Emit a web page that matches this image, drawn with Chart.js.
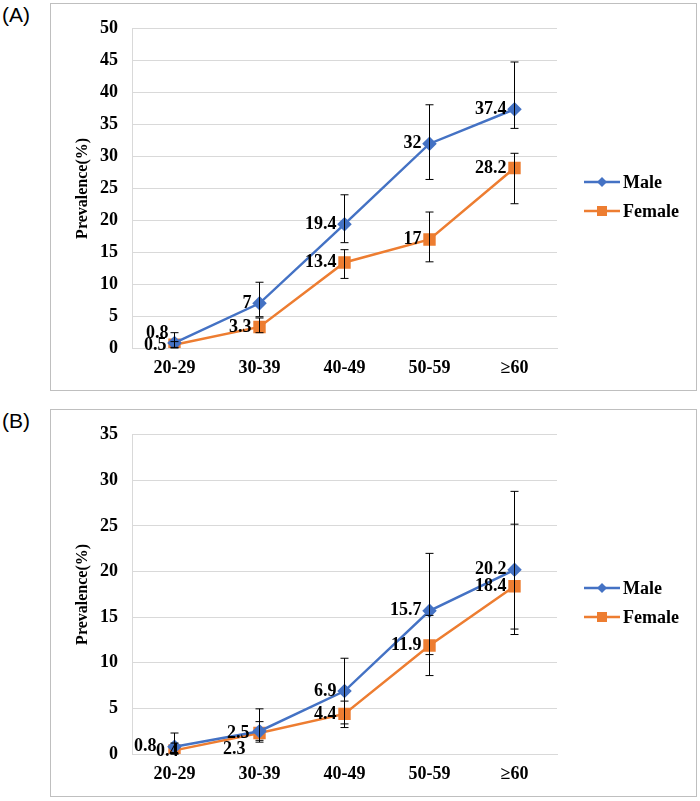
<!DOCTYPE html>
<html>
<head>
<meta charset="utf-8">
<script src="https://cdn.jsdelivr.net/npm/chart.js@4.4.1/dist/chart.umd.min.js"></script>
<style>
  body { margin: 0; background: #fff; width: 700px; height: 801px; position: relative; }
  .panel { position: absolute; left: 50px; width: 645px; height: 386px; border: 1px solid #bfbfbf; }
  .tag { position: absolute; left: 2px; font: 21px "Liberation Sans", Arial, sans-serif; color: #000; }
</style>
</head>
<body>
<div class="tag" style="top:3px">(A)</div>
<div class="panel" style="top:3px"><canvas id="chartA" width="645" height="386"></canvas></div>
<div class="tag" style="top:409px">(B)</div>
<div class="panel" style="top:409px"><canvas id="chartB" width="645" height="386"></canvas></div>
<script>
const ageGroups = ['20-29', '30-39', '40-49', '50-59', '≥60'];

// panel A
const maleA = [0.8, 7, 19.4, 32, 37.4];
const maleALow = [0, 4.9, 16.5, 26.4, 34.4];
const maleAHigh = [2.4, 10.3, 24.0, 38.1, 44.8];
const femaleA = [0.5, 3.3, 13.4, 17, 28.2];
const femaleALow = [0.1, 2.4, 10.9, 13.5, 22.6];
const femaleAHigh = [1.0, 4.7, 15.4, 21.3, 30.5];
const yMaxA = 50;

// panel B
const maleB = [0.8, 2.5, 6.9, 15.7, 20.2];
const maleBLow = [0, 1.5, 3.3, 10.9, 13.1];
const maleBHigh = [2.3, 4.95, 10.5, 22.0, 28.8];
const femaleB = [0.4, 2.3, 4.4, 11.9, 18.4];
const femaleBLow = [0, 1.3, 2.9, 8.6, 13.7];
const femaleBHigh = [1.2, 3.55, 5.8, 15.2, 25.2];
const yMaxB = 35;

const yStep = 5;
const blue = '#4472C4';
const orange = '#ED7D31';
const serif = '"Liberation Serif", "Times New Roman", serif';

// error bars, value labels, y title and legend
const extras = {
  id: 'extras',
  afterDatasetsDraw(chart) {
    const ctx = chart.ctx;
    const y = chart.scales.y;
    ctx.save();
    chart.data.datasets.forEach((ds, i) => {
      const meta = chart.getDatasetMeta(i);
      ctx.strokeStyle = '#000';
      ctx.lineWidth = 1;
      meta.data.forEach((pt, j) => {
        const top = y.getPixelForValue(ds.high[j]);
        const bot = y.getPixelForValue(ds.low[j]);
        ctx.beginPath();
        ctx.moveTo(pt.x, top); ctx.lineTo(pt.x, bot);
        ctx.moveTo(pt.x - 4, top); ctx.lineTo(pt.x + 4, top);
        ctx.moveTo(pt.x - 4, bot); ctx.lineTo(pt.x + 4, bot);
        ctx.stroke();
      });
    });
    ctx.font = 'bold 18px ' + serif;
    ctx.fillStyle = '#000';
    ctx.textAlign = 'right';
    ctx.textBaseline = 'middle';
    chart.data.datasets.forEach((ds, i) => {
      const meta = chart.getDatasetMeta(i);
      meta.data.forEach((pt, j) => {
        const off = (ds.labelOffset && ds.labelOffset[j]) || [0, 0];
        ctx.fillText(String(ds.data[j]), pt.x - 8 + off[0], pt.y + off[1]);
      });
    });
    // y axis title
    ctx.save();
    ctx.translate(32, (chart.chartArea.top + chart.chartArea.bottom) / 2);
    ctx.rotate(-Math.PI / 2);
    ctx.textAlign = 'center';
    ctx.font = 'bold 16px ' + serif;
    ctx.fillText('Prevalence(%)', 0, 0);
    ctx.restore();
    // legend
    chart.data.datasets.forEach((ds, i) => {
      const ly = 178 + i * 29;
      ctx.strokeStyle = ds.borderColor;
      ctx.lineWidth = 2.5;
      ctx.beginPath();
      ctx.moveTo(533, ly); ctx.lineTo(569, ly);
      ctx.stroke();
      ctx.fillStyle = ds.borderColor;
      if (ds.pointStyle === 'rectRot') {
        ctx.beginPath();
        ctx.moveTo(551, ly - 5); ctx.lineTo(556, ly); ctx.lineTo(551, ly + 5); ctx.lineTo(546, ly);
        ctx.closePath(); ctx.fill();
      } else {
        ctx.fillRect(546, ly - 5, 10, 10);
      }
      ctx.fillStyle = '#000';
      ctx.textAlign = 'left';
      ctx.font = 'bold 18px ' + serif;
      ctx.fillText(ds.label, 572, ly + 1);
    });
    ctx.restore();
  }
};

function makePanel(id, male, maleLow, maleHigh, female, femaleLow, femaleHigh, yMax, maleOff, femaleOff) {
  new Chart(document.getElementById(id), {
    type: 'line',
    data: {
      labels: ageGroups,
      datasets: [
        {
          label: 'Male', data: male, low: maleLow, high: maleHigh, labelOffset: maleOff,
          borderColor: blue, backgroundColor: blue, borderWidth: 2.5,
          pointStyle: 'rectRot', pointRadius: 5.5, pointHoverRadius: 5.5
        },
        {
          label: 'Female', data: female, low: femaleLow, high: femaleHigh, labelOffset: femaleOff,
          borderColor: orange, backgroundColor: orange, borderWidth: 2.5,
          pointStyle: 'rect', pointRadius: 7, pointHoverRadius: 7
        }
      ]
    },
    options: {
      responsive: false,
      animation: false,
      layout: { padding: { left: 0, right: 139, top: 18, bottom: 0 } },
      plugins: { legend: { display: false }, tooltip: { enabled: false } },
      scales: {
        x: {
          offset: true,
          grid: { display: false, drawTicks: false },
          border: { color: '#d9d9d9' },
          ticks: { color: '#000', padding: 10, font: { family: serif, size: 18, weight: 'bold' } },
          afterFit: s => { s.height = 42; }
        },
        y: {
          min: 0, max: yMax,
          grid: { color: '#d9d9d9', drawTicks: false },
          border: { color: '#d9d9d9' },
          ticks: { stepSize: yStep, color: '#000', padding: 14, font: { family: serif, size: 18, weight: 'bold' } },
          afterFit: s => { s.width = 81; }
        }
      }
    },
    plugins: [extras]
  });
}

makePanel('chartA', maleA, maleALow, maleAHigh, femaleA, femaleALow, femaleAHigh, yMaxA,
  [[2, -10]], [[0, 1]]);
makePanel('chartB', maleB, maleBLow, maleBHigh, femaleB, femaleBLow, femaleBHigh, yMaxB,
  [[-10, 0], [-2, 2]], [[12, 1], [-6, 16]]);
</script>
</body>
</html>
